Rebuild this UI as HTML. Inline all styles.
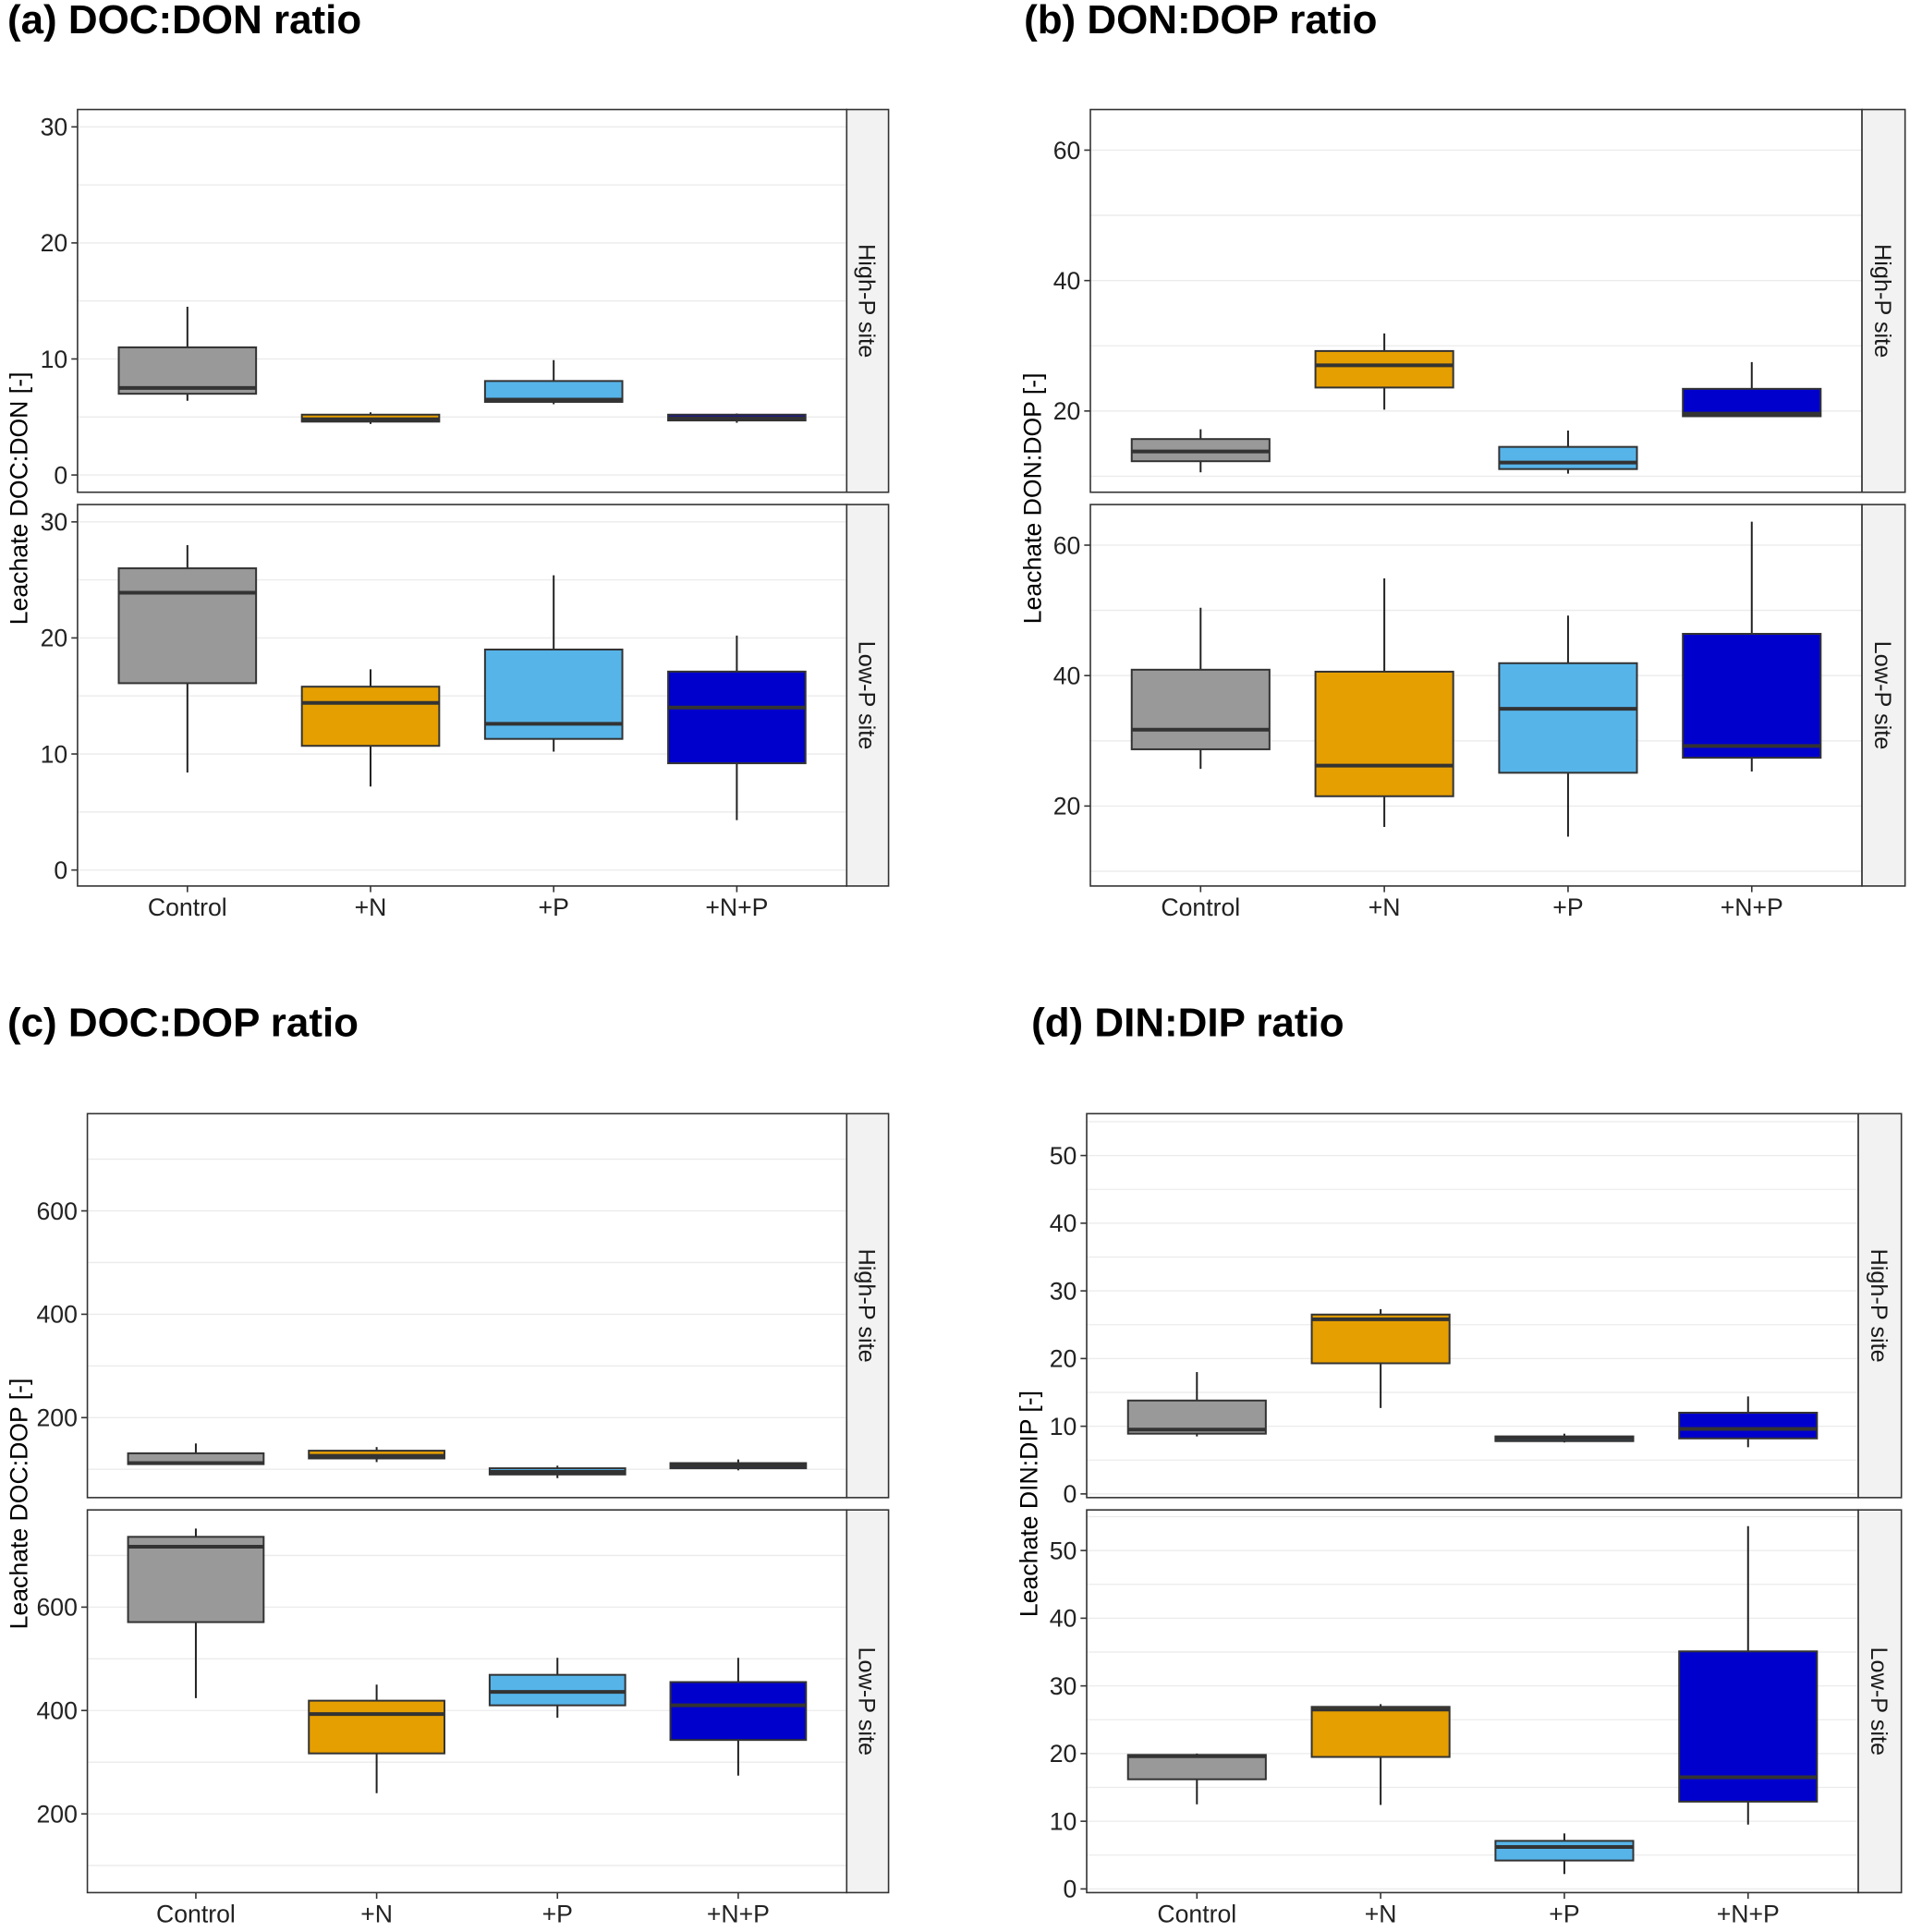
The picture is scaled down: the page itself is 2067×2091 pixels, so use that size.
<!DOCTYPE html>
<html><head><meta charset="utf-8">
<style>
html,body{margin:0;padding:0;background:#fff;}
svg{display:block;}
text{font-family:"Liberation Sans",Arial,sans-serif;}
</style></head>
<body>
<svg id="fig" width="2067" height="2091" viewBox="0 0 1552 1570" preserveAspectRatio="none" xmlns="http://www.w3.org/2000/svg"></svg>
<script>
// ---- data ----
const categories = ["Control", "+N", "+P", "+N+P"];
const facets = ["High-P site", "Low-P site"];
const colors = ["#999999", "#E69F00", "#56B4E9", "#0000CD"];
// each box: [lower whisker, q1, median, q3, upper whisker]
const aHigh = [[6.4,7.0,7.5,11.0,14.5],[4.4,4.6,4.8,5.2,5.4],[6.1,6.3,6.5,8.1,9.9],[4.5,4.7,4.9,5.2,5.3]];
const aLow  = [[8.4,16.1,23.9,26.0,28.0],[7.2,10.7,14.4,15.8,17.3],[10.2,11.3,12.6,19.0,25.4],[4.3,9.2,14.0,17.1,20.2]];
const bHigh = [[10.6,12.3,13.8,15.7,17.2],[20.2,23.6,27.0,29.2,31.9],[10.4,11.1,12.1,14.5,17.0],[19.2,19.2,19.6,23.4,27.5]];
const bLow  = [[25.7,28.7,31.7,40.9,50.4],[16.8,21.5,26.2,40.6,54.9],[15.3,25.1,34.9,41.9,49.2],[25.3,27.4,29.2,46.4,63.6]];
const cHigh = [[110,110,112,131,150],[114,121,126,136,143],[83,90,95,102,107],[98,102,107,112,119]];
const cLow  = [[424,571,717,736,752],[240,317,393,419,450],[386,410,436,469,502],[274,343,410,455,502]];
const dHigh = [[8.5,8.9,9.5,13.8,18.0],[12.7,19.3,25.8,26.5,27.3],[7.6,7.8,8.2,8.5,8.9],[6.9,8.2,9.6,12.0,14.4]];
const dLow  = [[12.5,16.2,19.6,19.8,20.0],[12.4,19.5,26.5,26.9,27.3],[2.2,4.2,6.2,7.1,8.2],[9.5,12.9,16.5,35.1,53.6]];
const aTicks = [0,10,20,30];
const bTicks = [20,40,60];
const cTicks = [200,400,600];
const dTicks = [0,10,20,30,40,50];

const NS = "http://www.w3.org/2000/svg";
const svg = document.getElementById("fig");
function mk(tag, attrs, parent, txt){
  const e = document.createElementNS(NS, tag);
  for (const k in attrs) e.setAttribute(k, attrs[k]);
  if (txt !== undefined) e.textContent = txt;
  (parent||svg).appendChild(e);
  return e;
}

function panel(cfg){
  const g = mk("g", {});
  
  
  const t = mk("text", {x:cfg.titleX, y:cfg.titleY, "font-size":33, "font-weight":"bold", fill:"#000"}, g, cfg.title);
  
  
  const yt = mk("text", {x:0, y:0, "font-size":20, "text-anchor":"middle", fill:"#000",
    transform:`translate(${cfg.ytX},${cfg.ytY}) rotate(-90)`}, g, cfg.ytitle);
  
  
  const span = cfg.x1 - cfg.x0;
  const step = span / 4.2;
  const xPos = i => cfg.x0 + step*(i+0.6);
  cfg.facetsCfg.forEach((f, fi) => {
    const fg = mk("g", {}, g);
    
    
    const y = v => f.zeroY - v*cfg.ppu;
    for (let v = cfg.gridStep*Math.ceil((f.vmin)/cfg.gridStep); v <= f.vmax; v += cfg.gridStep){
      const yy = y(v);
      if (yy < f.top || yy > f.bot) continue;
      const gl = mk("line", {x1:cfg.x0, x2:cfg.x1, y1:yy, y2:yy, stroke:"#ebebeb", "stroke-width":1}, fg);
      
      
    }
    f.data.forEach((d, i) => {
      const cx = xPos(i), hw = step*0.375;
      const bg = mk("g", {}, fg);
      
      
      mk("line", {x1:cx, x2:cx, y1:y(d[0]), y2:y(d[4]), stroke:"#222", "stroke-width":1.5}, bg);
      mk("rect", {x:cx-hw, y:y(d[3]), width:2*hw, height:Math.max(0.5, y(d[1])-y(d[3])), fill:colors[i], stroke:"#333", "stroke-width":1.5}, bg);
      mk("line", {x1:cx-hw, x2:cx+hw, y1:y(d[2]), y2:y(d[2]), stroke:"#333", "stroke-width":3}, bg);
    });
    mk("rect", {x:cfg.x0, y:f.top, width:span, height:f.bot-f.top, fill:"none", stroke:"#333", "stroke-width":1.2}, fg);
    const st = mk("rect", {x:cfg.x1, y:f.top, width:cfg.stripW, height:f.bot-f.top, fill:"#f2f2f2", stroke:"#333", "stroke-width":1.2}, fg);
    
    
    const sx = cfg.x1 + cfg.stripW/2, sy = (f.top+f.bot)/2;
    const stt = mk("text", {x:0, y:0, "font-size":19, "text-anchor":"middle", fill:"#1a1a1a",
      transform:`translate(${sx-7},${sy}) rotate(90)`}, fg, facets[fi]);
    
    
    cfg.ticks.forEach(v => {
      const yy = y(v);
      if (yy < f.top || yy > f.bot) return;
      mk("line", {x1:cfg.x0-5, x2:cfg.x0, y1:yy, y2:yy, stroke:"#333", "stroke-width":1.2}, fg);
      const tl = mk("text", {x:cfg.x0-8, y:yy+7, "font-size":20, "text-anchor":"end", fill:"#222"}, fg, String(v));
      
      
    });
  });
  const bot = cfg.facetsCfg[1].bot;
  categories.forEach((c, i) => {
    const cx = xPos(i);
    mk("line", {x1:cx, x2:cx, y1:bot, y2:bot+5, stroke:"#333", "stroke-width":1.2}, g);
    const xl = mk("text", {x:cx, y:bot+24, "font-size":20, "text-anchor":"middle", fill:"#222"}, g, c);
    
    
  });
}

panel({name:"panel-a", title:"(a) DOC:DON ratio", titleX:6, titleY:27, ytitle:"Leachate DOC:DON [-]", ytX:22, ytY:405,
  x0:63, x1:688, stripW:34, ppu:9.43, gridStep:5, ticks:aTicks,
  facetsCfg:[{top:89, bot:400, zeroY:386, vmin:0, vmax:33, data:aHigh},
             {top:410, bot:720, zeroY:707, vmin:0, vmax:33, data:aLow}]});
panel({name:"panel-b", title:"(b) DON:DOP ratio", titleX:832, titleY:27, ytitle:"Leachate DON:DOP [-]", ytX:846, ytY:405,
  x0:886, x1:1513, stripW:35, ppu:5.3, gridStep:10, ticks:bTicks,
  facetsCfg:[{top:89, bot:400, zeroY:440, vmin:0, vmax:66, data:bHigh},
             {top:410, bot:720, zeroY:761, vmin:0, vmax:66, data:bLow}]});
panel({name:"panel-c", title:"(c) DOC:DOP ratio", titleX:6, titleY:842, ytitle:"Leachate DOC:DOP [-]", ytX:22, ytY:1222,
  x0:71, x1:688, stripW:34, ppu:0.42, gridStep:100, ticks:cTicks,
  facetsCfg:[{top:905, bot:1217, zeroY:1236, vmin:0, vmax:790, data:cHigh},
             {top:1227, bot:1538, zeroY:1558, vmin:0, vmax:790, data:cLow}]});
panel({name:"panel-d", title:"(d) DIN:DIP ratio", titleX:838, titleY:842, ytitle:"Leachate DIN:DIP [-]", ytX:843, ytY:1222,
  x0:883, x1:1510, stripW:35, ppu:5.5, gridStep:5, ticks:dTicks,
  facetsCfg:[{top:905, bot:1217, zeroY:1214, vmin:0, vmax:57, data:dHigh},
             {top:1227, bot:1538, zeroY:1535, vmin:0, vmax:57, data:dLow}]});
</script>
</body></html>
